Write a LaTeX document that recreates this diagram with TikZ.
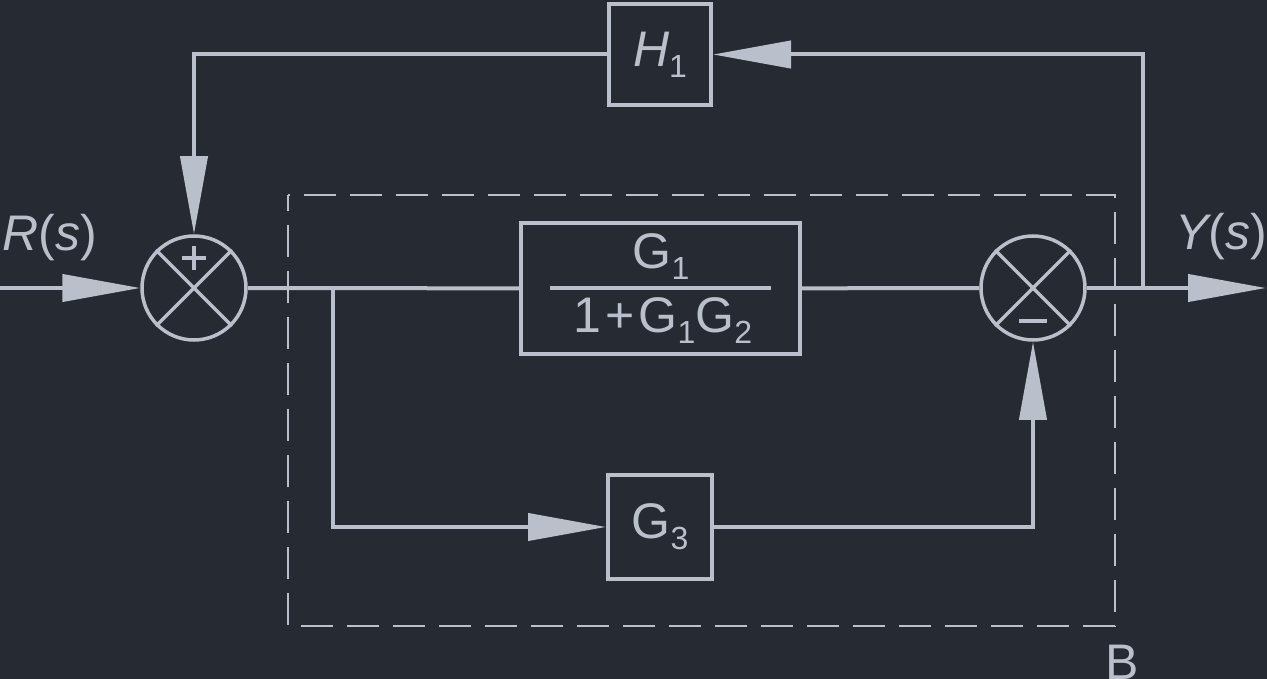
\documentclass[tikz,border=0pt]{standalone}
\usepackage{fontspec}
\setmainfont{Liberation Sans}
\usetikzlibrary{arrows.meta}
\definecolor{bg}{HTML}{262A33}
\definecolor{fg}{HTML}{B9BFCB}
\newcommand\subs[1]{\raisebox{-11pt}{\fontsize{32}{32}\selectfont #1}}
\begin{document}
\begin{tikzpicture}[x=1pt,y=-1pt,
  line/.style={draw=fg, line width=4pt},
  arr/.style={-{Triangle[length=78pt,width=27pt]}},
  blk/.style={draw=fg, line width=4pt, inner sep=0pt, text=fg, font=\fontsize{50}{60}\selectfont},
  sumj/.style={circle, draw=fg, line width=3.5pt, minimum size=104pt, inner sep=0pt},
  lbl/.style={text=fg, inner sep=0pt, font=\fontsize{50}{60}\selectfont},
  dashbox/.style={draw=fg, line width=2.2pt, dash pattern=on 32pt off 14pt, dash phase=16pt}]
\fill[bg] (0,0) rectangle (1267,679);
\useasboundingbox (0,0) rectangle (1267,679);
% dashed region B
\draw[dashbox] (288,195) rectangle (1115,626);
\node[lbl, anchor=base] (lB) at (1122,679) {B};
% blocks
\node[blk, minimum width=102pt, minimum height=101pt] (h1) at (660,54.5) {\itshape H\subs{\upshape 1}};
\node[blk, minimum width=279pt, minimum height=131pt] (g1) at (660.5,288.5) {};
\node[lbl, anchor=base] (g1num) at (661,269) {G\subs{1}};
\node[lbl, anchor=base] (g1den) at (663,332) {1\hspace{4pt}+\hspace{4pt}G\subs{1}G\subs{2}};
\coordinate (barl) at (550,288);
\coordinate (barr) at (771,288);
\draw[line, line width=3.5pt] (barl) -- (barr);
\node[blk, minimum width=104pt, minimum height=104pt] (g3) at (660,527) {G\subs{3}};
% summing junctions
\node[sumj] (s1) at (194,288) {};
\node[sumj] (s2) at (1033,288) {};
\draw[line, line width=3.5pt] (s1.north east) -- (s1.south west);
\draw[line, line width=3.5pt] (s1.north west) -- (s1.south east);
\draw[line, line width=3.5pt] (s2.north east) -- (s2.south west);
\draw[line, line width=3.5pt] (s2.north west) -- (s2.south east);
\draw[line] ([xshift=-12pt,yshift=30pt]s1.center) -- ([xshift=12pt,yshift=30pt]s1.center);
\draw[line] ([yshift=18pt]s1.center) -- ([yshift=42pt]s1.center);
\draw[line] ([xshift=-14pt,yshift=-33pt]s2.center) -- ([xshift=14pt,yshift=-33pt]s2.center);
% labels
\node[lbl, anchor=base] (lR) at (50,251) {\itshape R\upshape(\itshape s\upshape)};
\node[lbl, anchor=base] (lY) at (1221,250) {\itshape Y\upshape(\itshape s\upshape)};
% connectors
\coordinate (in) at (0,288);
\coordinate (out) at (1266,288);
\coordinate (br) at (333,288);
\coordinate (tap) at (1143,288);
\draw[line, arr] (in) -- (s1);
\draw[line] (s1) -- (g1);
\draw[line, arr] (br) |- (g3);
\draw[line] (g1) -- (s2);
\draw[line, arr] (g3) -| (s2);
\draw[line, arr] (s2) -- (out);
\draw[line, arr] (tap) |- (h1);
\draw[line, arr] (h1) -| (s1);
\end{tikzpicture}
\end{document}
